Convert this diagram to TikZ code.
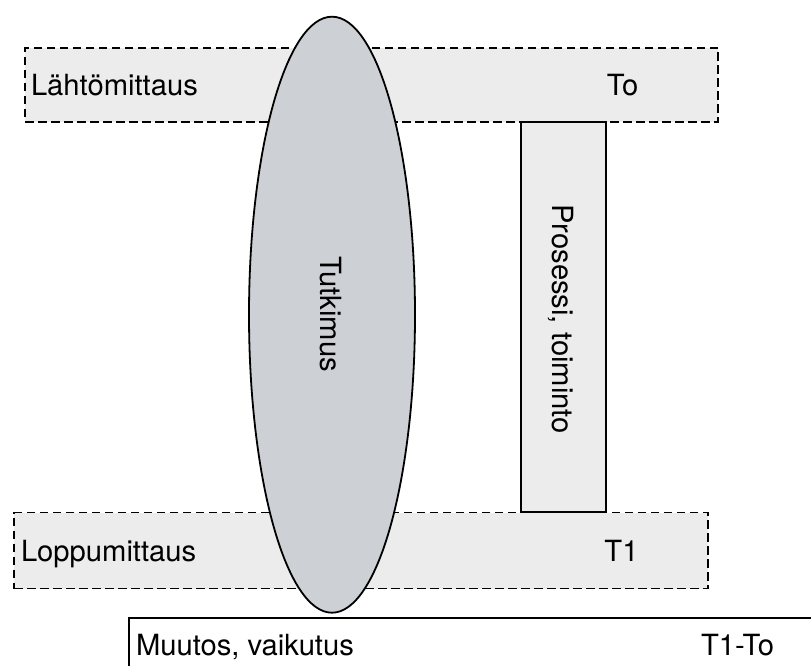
\documentclass[tikz,border=0pt]{standalone}
\usepackage{fontspec}
\setmainfont{TeX Gyre Heros}
\usetikzlibrary{shapes.geometric}
\definecolor{boxgray}{HTML}{ECECEC}
\definecolor{ovalgray}{HTML}{CDD0D5}
\begin{document}
\begin{tikzpicture}[x=1pt,y=-1pt,
  every node/.style={inner sep=0pt, outer sep=0pt, font=\fontsize{29.2pt}{34pt}\selectfont},
  measbox/.style={draw=black, line width=1.8pt, dash pattern=on 8.5pt off 4.5pt, fill=boxgray, rectangle},
  procbox/.style={draw=black, line width=1.6pt, fill=boxgray, rectangle},
  resultbox/.style={draw=black, line width=1.6pt, fill=white, rectangle},
  study/.style={draw=black, line width=1.8pt, fill=ovalgray, ellipse},
  lbl/.style={anchor=base west},
  tag/.style={anchor=base}]
\useasboundingbox (0,0) rectangle (811,666);
\clip (0,0) rectangle (811,666);

% measurement bands and the process column
\node[measbox, minimum width=693pt, minimum height=74pt] (alku) at (371.5,85) {};
\node[procbox, minimum width=85pt, minimum height=390pt] (prosessi) at (563.5,317) {};
\node[measbox, minimum width=694pt, minimum height=76pt] (loppu) at (361,550.5) {};

% research oval lying across both bands
\node[study, minimum width=166pt, minimum height=596pt] (tutkimus) at (332,314.7) {};

% result box running off the lower right
\node[resultbox, minimum width=701pt, minimum height=72pt] (muutos) at (479.5,654) {};

% texts
\node[lbl] (t-alku) at (31,95.5) {Lähtömittaus};
\node[tag] (t-to) at (622.5,95.5) {To};
\node[lbl] (t-loppu) at (21,561) {Loppumittaus};
\node[tag] (t-t1) at (621.5,561) {T1};
\node[lbl] (t-muutos) at (136,655.5) {Muutos, vaikutus};
\node[tag] (t-ero) at (737.5,655.5) {T1-To};
\node[tag, rotate=-90] (t-tutkimus) at (320.5,314) {Tutkimus};
\node[tag, rotate=-90] (t-prosessi) at (552,319) {Prosessi, toiminto};
\end{tikzpicture}
\end{document}
